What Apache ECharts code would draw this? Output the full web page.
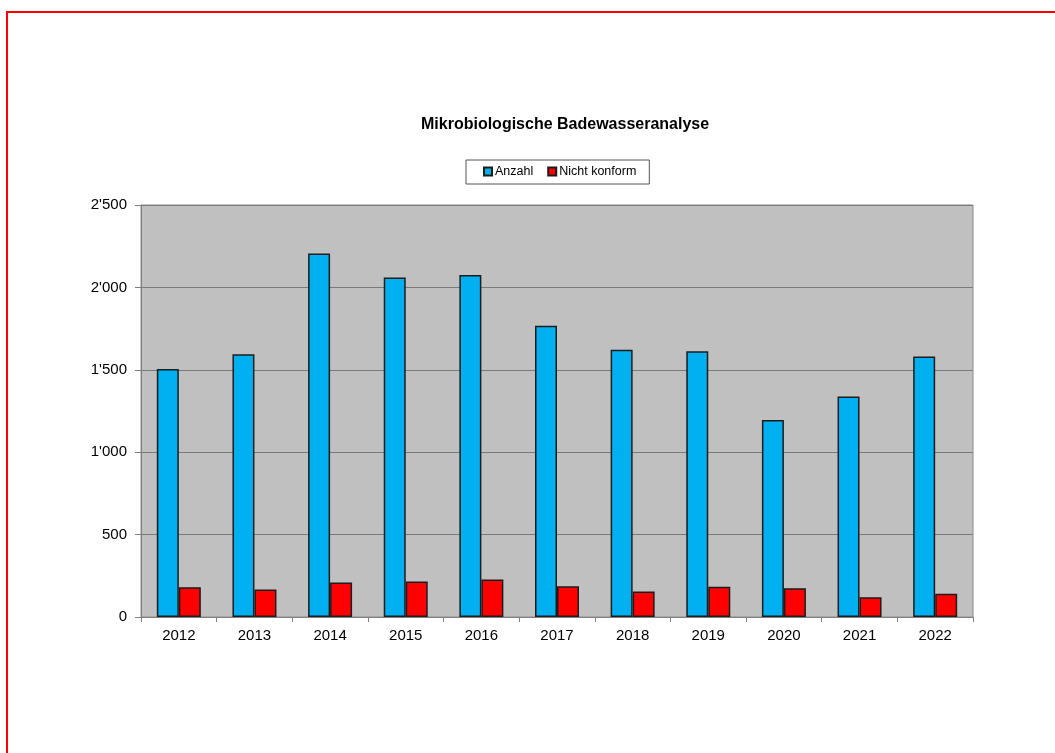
<!DOCTYPE html>
<html>
<head>
<meta charset="utf-8">
<title>Mikrobiologische Badewasseranalyse</title>
<script src="https://cdn.jsdelivr.net/npm/echarts@6/dist/echarts.min.js"></script>
<style>
html, body { margin: 0; padding: 0; background: #fff; }
#main { width: 1055px; height: 753px; }
</style>
</head>
<body>
<div id="main"></div>
<script>
// Jahre
var years = ['2012', '2013', '2014', '2015', '2016', '2017', '2018', '2019', '2020', '2021', '2022'];
// Anzahl Proben
var anzahl = [1505, 1595, 2205, 2060, 2076, 1767, 1622, 1612, 1196, 1338, 1580];
// Nicht konform
var nichtKonform = [181, 167, 210, 216, 228, 186, 155, 184, 175, 120, 141];
// Achsenbeschriftung
var yTicks = [0, 500, 1000, 1500, 2000, 2500];

var myChart = echarts.init(document.getElementById('main'));

function fmt(v) {
	// Tausendertrennzeichen wie im Original: 2'500
	return String(v).replace(/\B(?=(\d{3})+(?!\d))/g, "'");
}

myChart.setOption({
	animation: false,
	textStyle: {
		fontFamily: 'Liberation Sans, Arial, sans-serif'
	},

	title: {
		text: 'Mikrobiologische Badewasseranalyse',
		left: 421,
		top: 117,
		padding: 0,
		textStyle: {
			fontSize: 16,
			fontWeight: 'bold',
			color: '#000'
		}
	},

	legend: {
		data: ['Anzahl', 'Nicht konform'],
		left: 466,
		top: 160,
		icon: 'rect',
		itemWidth: 8,
		itemHeight: 8,
		itemGap: 14,
		padding: [5, 13, 6, 17],
		borderColor: '#555',
		borderWidth: 1,
		backgroundColor: '#fff',
		textStyle: {
			fontSize: 12.5,
			color: '#000',
			padding: [0, 0, 0, -2]
		}
	},

	grid: {
		left: 141,
		right: 82,
		top: 205,
		bottom: 136,
		show: true,
		backgroundColor: '#c0c0c0',
		borderColor: '#8c8c8c',
		borderWidth: 1
	},

	xAxis: {
		type: 'category',
		data: years,
		axisLine: { lineStyle: { color: '#808080', width: 1 } },
		axisTick: { show: true, length: 5, lineStyle: { color: '#808080' } },
		axisLabel: { fontSize: 15, color: '#000', margin: 11 }
	},

	yAxis: {
		type: 'value',
		min: yTicks[0],
		max: yTicks[yTicks.length - 1],
		interval: 500,
		axisLine: { show: true, lineStyle: { color: '#808080', width: 1 } },
		axisTick: { show: true, length: 6, lineStyle: { color: '#808080' } },
		axisLabel: {
			fontSize: 15,
			color: '#000',
			margin: 14,
			formatter: fmt
		},
		splitLine: { lineStyle: { color: '#7a7a7a', width: 1 } }
	},

	series: [
		{
			name: 'Anzahl',
			type: 'bar',
			data: anzahl,
			barWidth: 22,
			barGap: '0%',
			itemStyle: { color: '#00b0f0', borderColor: '#1c1c1c', borderWidth: 1.5 }
		},
		{
			name: 'Nicht konform',
			type: 'bar',
			data: nichtKonform,
			barWidth: 22,
			barGap: '0%',
			itemStyle: { color: '#ff0000', borderColor: '#1c1c1c', borderWidth: 1.5 }
		}
	],

	graphic: [
		{
			// roter Rahmen
			type: 'rect',
			silent: true,
			shape: { x: 7, y: 12, width: 1200, height: 900 },
			style: { fill: 'none', stroke: '#ff0000', lineWidth: 2 }
		}
	]
});
</script>
</body>
</html>
